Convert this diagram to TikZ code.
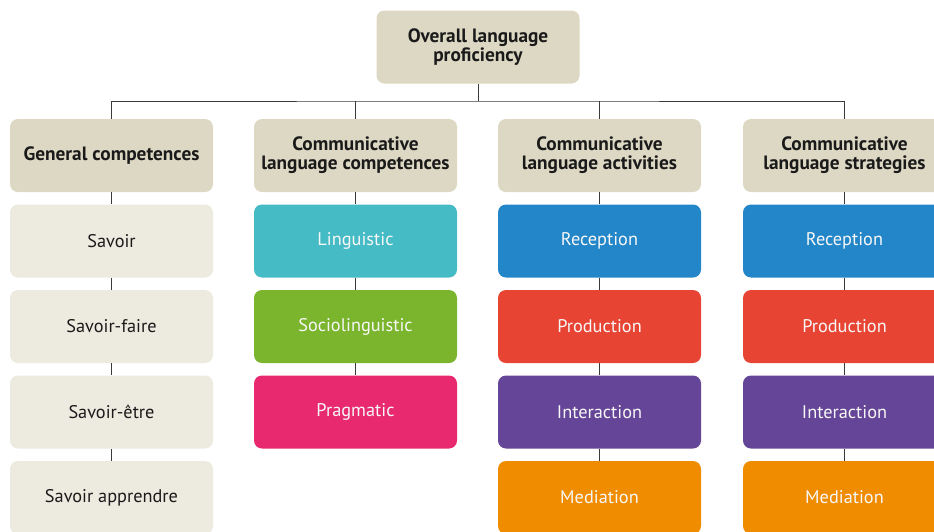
\documentclass[tikz,border=0pt]{standalone}
\usepackage{fontspec}
\setmainfont{PT Sans}
\definecolor{hdr}{HTML}{DDD8C3}
\definecolor{lite}{HTML}{EDEAE0}
\definecolor{cyanb}{HTML}{45BBC6}
\definecolor{greenb}{HTML}{7AB52D}
\definecolor{pinkb}{HTML}{E8296F}
\definecolor{blueb}{HTML}{2386C8}
\definecolor{redb}{HTML}{E84434}
\definecolor{purpb}{HTML}{654597}
\definecolor{orab}{HTML}{F08C00}
\definecolor{txt}{HTML}{1A1A1A}
\definecolor{conn}{HTML}{3A3A3A}
\begin{document}
\begin{tikzpicture}[x=1pt,y=-1pt,
  box/.style={rounded corners=8pt, minimum width=203pt, minimum height=73pt, inner sep=0pt, align=center, font=\fontsize{18.3}{19}\selectfont},
  headbox/.style={box, fill=hdr, text=txt, font=\fontsize{19.3}{19}\selectfont\bfseries},
  litebox/.style={box, fill=lite, text=txt},
  colbox/.style={box, fill=#1, text=white!94!gray},
  link/.style={draw=conn, line width=1pt}]
\useasboundingbox (0,0) rectangle (934,531);
\clip (0,0) rectangle (934,531);
% top
\node[headbox] (top) at (478,47) {Overall language\\proficiency};
% headers
\node[headbox] (h1) at (111.5,155.5) {General competences};
\node[headbox] (h2) at (355.5,155.5) {Communicative\\language competences};
\node[headbox] (h3) at (599.5,155.5) {Communicative\\language activities};
\node[headbox] (h4) at (844.5,155.5) {Communicative\\language strategies};
% column 1
\node[litebox] (a1) at (111.5,241) {Savoir};
\node[litebox] (a2) at (111.5,326.5) {Savoir-faire};
\node[litebox] (a3) at (111.5,412) {Savoir-être};
\node[litebox] (a4) at (111.5,497.5) {Savoir apprendre};
% column 2
\node[colbox=cyanb] (b1) at (355.5,241) {Linguistic};
\node[colbox=greenb] (b2) at (355.5,326.5) {Sociolinguistic};
\node[colbox=pinkb] (b3) at (355.5,412) {Pragmatic};
% column 3
\node[colbox=blueb] (c1) at (599.5,241) {Reception};
\node[colbox=redb] (c2) at (599.5,326.5) {Production};
\node[colbox=purpb] (c3) at (599.5,412) {Interaction};
\node[colbox=orab] (c4) at (599.5,497.5) {Mediation};
% column 4
\node[colbox=blueb] (d1) at (844.5,241) {Reception};
\node[colbox=redb] (d2) at (844.5,326.5) {Production};
\node[colbox=purpb] (d3) at (844.5,412) {Interaction};
\node[colbox=orab] (d4) at (844.5,497.5) {Mediation};
% connectors
\coordinate (bus) at (478,101);
\draw[link] (top.south) -- (bus);
\draw[link] (h1.north) |- (bus) -| (h4.north);
\draw[link] (h2.north) -- (h2.north |- bus);
\draw[link] (h3.north) -- (h3.north |- bus);
\foreach \u/\v in {h1/a1,a1/a2,a2/a3,a3/a4,h2/b1,b1/b2,b2/b3,h3/c1,c1/c2,c2/c3,c3/c4,h4/d1,d1/d2,d2/d3,d3/d4}
  \draw[link] (\u.south) -- (\v.north);
\end{tikzpicture}
\end{document}
